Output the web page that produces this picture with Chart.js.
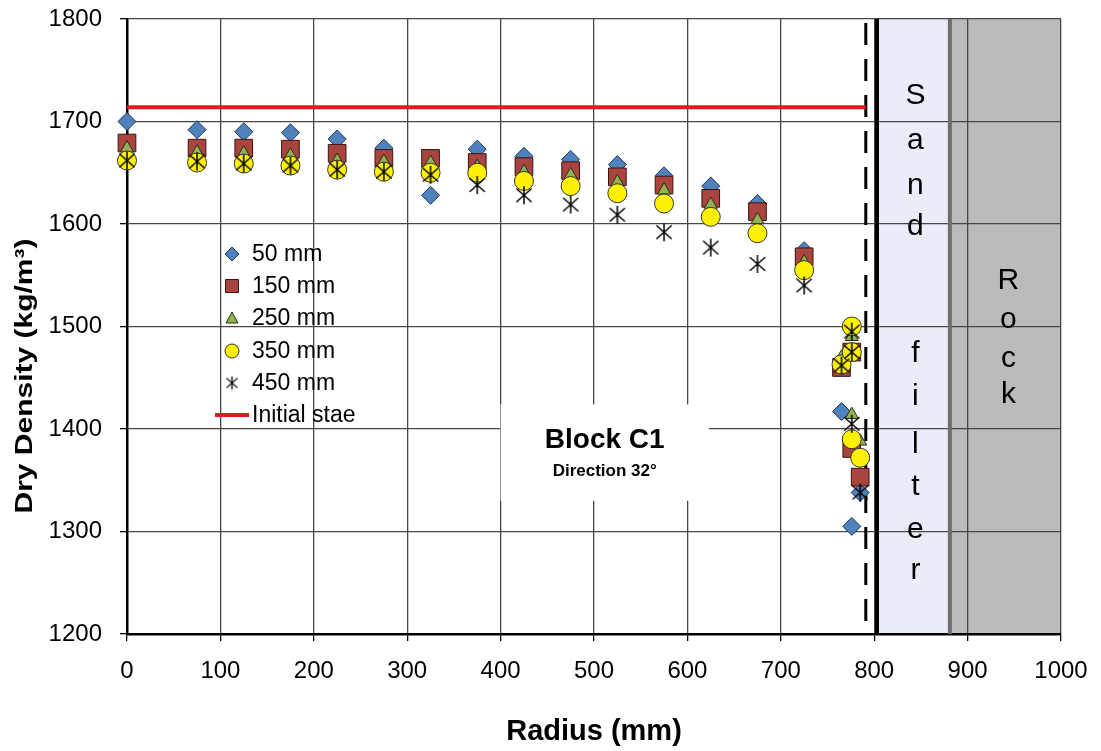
<!DOCTYPE html>
<html>
<head>
<meta charset="utf-8">
<script src="https://cdn.jsdelivr.net/npm/chart.js@4.4.1/dist/chart.umd.min.js"></script>
<style>
  html, body { margin: 0; padding: 0; background: #fff; }
  #wrap { width: 1101px; height: 751px; }
</style>
</head>
<body>
<div id="wrap"><canvas id="densityChart" width="1101" height="751"></canvas></div>
<script>
// Regular sampling radii (mm)
const radius = [0, 75, 125, 175, 225, 275, 325, 375, 425, 475, 525, 575, 625, 675, 725];

// Dry density (kg/m3) per depth level
const d50  = [1700, 1692, 1690, 1689, 1683, 1674, 1628, 1673, 1666, 1663, 1658, 1647, 1637, 1620, 1574];
const d150 = [1679, 1674, 1674, 1673, 1669, 1664, 1664, 1660, 1656, 1652, 1646, 1638, 1625, 1612, 1568];
const d250 = [1674, 1670, 1669, 1667, 1662, 1661, 1660, 1656, 1651, 1648, 1641, 1633, 1619, 1604, 1563];
const d350 = [1662, 1660, 1659, 1657, 1653, 1651, 1650, 1650, 1642, 1637, 1630, 1620, 1607, 1591, 1555];
const d450 = [1662, 1661, 1659, 1657, 1653, 1651, 1648, 1638, 1628, 1619, 1609, 1592, 1577, 1561, 1540];

// Extra samples close to the sand filter
const edgeR50  = [765, 776, 785];
const edge50   = [1417, 1305, 1338];
const edgeR150 = [765, 776, 776, 785];
const edge150  = [1460, 1475, 1381, 1353];
const edgeR250 = [765, 776, 776, 785];
const edge250  = [1470, 1490, 1414, 1388];
const edgeR350 = [765, 776, 776, 776, 785];
const edge350  = [1463, 1500, 1475, 1390, 1372];
const edgeR450 = [765, 776, 776, 776, 785];
const edge450  = [1462, 1495, 1475, 1405, 1338];

// Initial state line
const initialR = [0, 791];
const initialDensity = [1714, 1714];

// Zones (mm)
const dashedAt = 791;
const sandFrom = 803;
const sandTo = 881;
const rockTo = 1000;

const xTicks = [0, 100, 200, 300, 400, 500, 600, 700, 800, 900, 1000];
const yTicks = [1200, 1300, 1400, 1500, 1600, 1700, 1800];

const FONT = "'Liberation Sans', Arial, sans-serif";

function toPoints(xs, ys) {
    return xs.map((x, i) => ({ x: x, y: ys[i] }));
}

// Excel style asterisk marker (X with a vertical stroke)
function makeStar(size, lw) {
    const c = document.createElement('canvas');
    c.width = size; c.height = size;
    const g = c.getContext('2d');
    g.strokeStyle = '#000';
    g.lineWidth = lw;
    const m = size / 2, r = size / 2 - 1;
    g.beginPath();
    g.moveTo(m, m - r); g.lineTo(m, m + r);
    g.moveTo(m - r * 0.85, m - r * 0.75); g.lineTo(m + r * 0.85, m + r * 0.75);
    g.moveTo(m - r * 0.85, m + r * 0.75); g.lineTo(m + r * 0.85, m - r * 0.75);
    g.stroke();
    return c;
}
const starMarker = makeStar(20, 1.5);
const starLegend = makeStar(15, 1.3);

const series = [
    { label: '50 mm',  style: 'rectRot',  fill: '#4f81bd', border: '#1d3657', r: 9 },
    { label: '150 mm', style: 'rect',     fill: '#a9443f', border: '#3b1412', r: 12.5 },
    { label: '250 mm', style: 'triangle', fill: '#93b153', border: '#26300f', r: 7.5 },
    { label: '350 mm', style: 'circle',   fill: '#fff200', border: '#333',    r: 9.5 },
    { label: '450 mm', style: starMarker, fill: '#000',    border: '#000',    r: 10 }
];
const seriesData = [
    toPoints(radius.concat(edgeR50), d50.concat(edge50)),
    toPoints(radius.concat(edgeR150), d150.concat(edge150)),
    toPoints(radius.concat(edgeR250), d250.concat(edge250)),
    toPoints(radius.concat(edgeR350), d350.concat(edge350)),
    toPoints(radius.concat(edgeR450), d450.concat(edge450))
];

const datasets = series.map((s, i) => ({
    type: 'scatter',
    label: s.label,
    data: seriesData[i],
    pointStyle: s.style,
    pointRadius: s.r,
    pointHoverRadius: s.r,
    backgroundColor: s.fill,
    borderColor: s.border,
    borderWidth: 1,
    clip: false,
    order: 10 - i
}));
datasets.push({
    type: 'line',
    label: 'Initial stae',
    data: toPoints(initialR, initialDensity),
    borderColor: '#e3191c',
    borderWidth: 4,
    pointRadius: 0,
    fill: false,
    order: 0
});

// Sand filter / rock background
const zonesBackground = {
    id: 'zonesBackground',
    beforeDraw(chart) {
        const { ctx, chartArea: a, scales: { x } } = chart;
        ctx.save();
        ctx.fillStyle = '#eaedf7';
        ctx.fillRect(x.getPixelForValue(sandFrom), a.top, x.getPixelForValue(sandTo) - x.getPixelForValue(sandFrom), a.bottom - a.top);
        ctx.fillStyle = '#bcbabb';
        ctx.fillRect(x.getPixelForValue(sandTo), a.top, x.getPixelForValue(rockTo) - x.getPixelForValue(sandTo), a.bottom - a.top);
        ctx.restore();
    }
};

function drawLegendMarker(ctx, kind, cx, cy) {
    ctx.lineWidth = 1;
    ctx.beginPath();
    if (kind === 0) {
        ctx.moveTo(cx, cy - 7); ctx.lineTo(cx + 7, cy); ctx.lineTo(cx, cy + 7); ctx.lineTo(cx - 7, cy); ctx.closePath();
    } else if (kind === 1) {
        ctx.rect(cx - 6.5, cy - 6.5, 13, 13);
    } else if (kind === 2) {
        ctx.moveTo(cx, cy - 6); ctx.lineTo(cx + 6, cy + 5); ctx.lineTo(cx - 6, cy + 5); ctx.closePath();
    } else if (kind === 3) {
        ctx.arc(cx, cy, 7, 0, Math.PI * 2);
    }
    ctx.fill();
    ctx.stroke();
}

// Overlays: zone lines, zone labels, text box, legend and y title
const overlays = {
    id: 'overlays',
    beforeDatasetsDraw(chart) {
        const { ctx, chartArea: a, scales: { x, y } } = chart;
        ctx.save();

        // rock boundary
        ctx.strokeStyle = '#6e6e6e';
        ctx.lineWidth = 4;
        ctx.beginPath();
        ctx.moveTo(x.getPixelForValue(sandTo), a.top);
        ctx.lineTo(x.getPixelForValue(sandTo), a.bottom);
        ctx.stroke();

        // sand filter boundary
        ctx.strokeStyle = '#000';
        ctx.lineWidth = 4;
        ctx.beginPath();
        ctx.moveTo(x.getPixelForValue(sandFrom), a.top);
        ctx.lineTo(x.getPixelForValue(sandFrom), a.bottom);
        ctx.stroke();

        // dashed line
        ctx.lineWidth = 3;
        ctx.setLineDash([22, 14]);
        ctx.beginPath();
        ctx.moveTo(x.getPixelForValue(dashedAt), a.top + 4);
        ctx.lineTo(x.getPixelForValue(dashedAt), a.bottom);
        ctx.stroke();
        ctx.setLineDash([]);

        // vertical labels
        ctx.fillStyle = '#000';
        ctx.font = '30px ' + FONT;
        ctx.textAlign = 'center';
        ctx.textBaseline = 'middle';
        const sandX = (x.getPixelForValue(sandFrom) + x.getPixelForValue(sandTo)) / 2 + 2;
        const sandLetters = ['S', 'a', 'n', 'd', 'f', 'i', 'l', 't', 'e', 'r'];
        const sandY = [96, 141, 186, 227, 354, 397, 445, 487, 530, 571];
        sandLetters.forEach((ch, i) => ctx.fillText(ch, sandX, sandY[i]));
        const rockX = (x.getPixelForValue(sandTo) + x.getPixelForValue(rockTo)) / 2 + 3;
        ['R', 'o', 'c', 'k'].forEach((ch, i) => ctx.fillText(ch, rockX, [281, 320, 359, 395][i]));

        // block text box
        const bx1 = x.getPixelForValue(400), bx2 = x.getPixelForValue(623);
        const by1 = y.getPixelForValue(1424), by2 = y.getPixelForValue(1330);
        ctx.fillStyle = '#fff';
        ctx.fillRect(bx1, by1, bx2 - bx1, by2 - by1);
        ctx.fillStyle = '#000';
        ctx.font = 'bold 28px ' + FONT;
        ctx.fillText('Block C1', (bx1 + bx2) / 2, 440);
        ctx.font = 'bold 17px ' + FONT;
        ctx.fillText('Direction 32°', (bx1 + bx2) / 2, 471);

        // legend
        ctx.textAlign = 'left';
        ctx.font = '23px ' + FONT;
        const rows = [254, 286, 318, 351, 383, 415];
        series.forEach((s, i) => {
            ctx.fillStyle = s.fill;
            ctx.strokeStyle = s.border;
            if (i === 4) {
                ctx.drawImage(starLegend, 232 - 7.5, rows[i] - 7.5);
            } else {
                drawLegendMarker(ctx, i, 232, rows[i]);
            }
            ctx.fillStyle = '#000';
            ctx.fillText(s.label, 252, rows[i] + 1);
        });
        ctx.strokeStyle = '#e3191c';
        ctx.lineWidth = 4;
        ctx.beginPath();
        ctx.moveTo(215, rows[5]);
        ctx.lineTo(249, rows[5]);
        ctx.stroke();
        ctx.fillStyle = '#000';
        ctx.fillText('Initial stae', 252, rows[5] + 1);

        // y axis title (tall, narrow lettering like the original)
        ctx.translate(25, 376);
        ctx.rotate(-Math.PI / 2);
        ctx.scale(1, 0.82);
        ctx.textAlign = 'center';
        ctx.font = 'bold 30px ' + FONT;
        ctx.fillText('Dry Density (kg/m³)', 0, 0);

        ctx.restore();
    }
};

Chart.defaults.font.family = FONT;
Chart.defaults.color = '#000';

new Chart(document.getElementById('densityChart'), {
    type: 'scatter',
    data: { datasets: datasets },
    options: {
        responsive: false,
        animation: false,
        devicePixelRatio: 1,
        layout: { autoPadding: false, padding: { top: 19, right: 40, left: 0, bottom: 0 } },
        plugins: {
            legend: { display: false },
            tooltip: { enabled: false }
        },
        scales: {
            x: {
                type: 'linear',
                min: 0,
                max: 1000,
                afterBuildTicks: (s) => { s.ticks = xTicks.map(v => ({ value: v })); },
                afterFit: (s) => { s.height = 117; s.paddingLeft = 0; s.paddingRight = 0; },
                ticks: { font: { size: 24 }, padding: 16, maxRotation: 0, callback: (v) => String(v) },
                grid: { color: '#474747', lineWidth: 1.3, tickLength: 7, tickColor: '#000' },
                border: { color: '#000', width: 2.5 },
                title: { display: true, text: 'Radius (mm)', font: { size: 29, weight: 'bold' }, padding: { top: 0, bottom: 2 } }
            },
            y: {
                type: 'linear',
                min: 1200,
                max: 1800,
                afterBuildTicks: (s) => { s.ticks = yTicks.map(v => ({ value: v })); },
                afterFit: (s) => { s.width = 127; s.paddingTop = 0; s.paddingBottom = 0; },
                ticks: { font: { size: 24 }, padding: 18, callback: (v) => String(v) },
                grid: { color: '#474747', lineWidth: 1.3, tickLength: 7, tickColor: '#000' },
                border: { color: '#000', width: 2.5 },
                title: { display: false }
            }
        }
    },
    plugins: [zonesBackground, overlays]
});
</script>
</body>
</html>
